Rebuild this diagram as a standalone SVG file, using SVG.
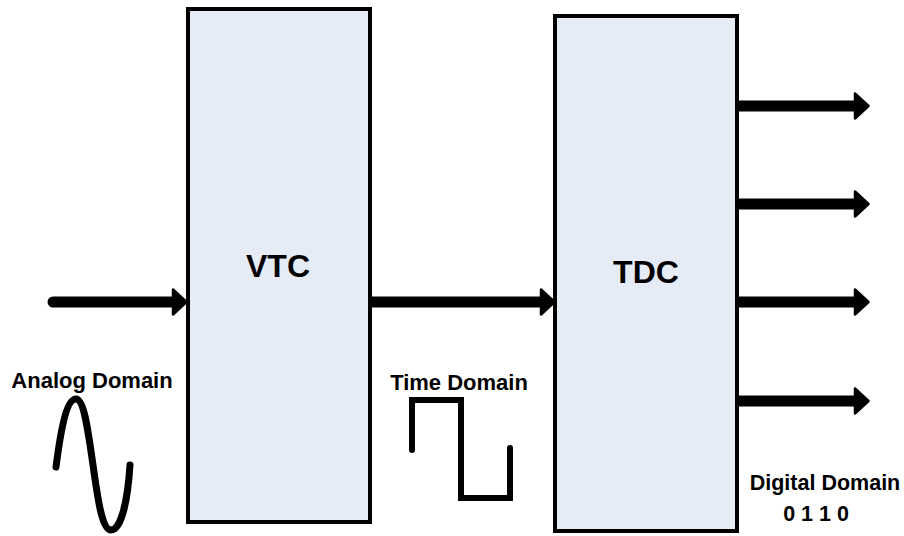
<svg xmlns="http://www.w3.org/2000/svg" width="904" height="536" viewBox="0 0 904 536">
<style>
.box{fill:#E5ECF6;stroke:#000;stroke-width:4}
.lbl{font-family:"Liberation Sans",Arial,sans-serif;font-weight:bold;fill:#000}
.big{font-size:32px}
.small{font-size:22px}
.shaft{stroke:#000;stroke-width:11;fill:none}
.wave{stroke:#000;stroke-width:7;fill:none;stroke-linecap:round}
</style>
<defs>
<marker id="ah" markerUnits="userSpaceOnUse" markerWidth="20" markerHeight="32" viewBox="-2 -2 20 32" refX="2" refY="14" orient="auto">
<path d="M1,1.5 L14.5,14 L1,26.5 Z" fill="#000" stroke="#000" stroke-width="2.5" stroke-linejoin="round"/>
</marker>
</defs>
<rect width="904" height="536" fill="#fff"/>
<g id="connectors">
<line class="shaft" x1="53" y1="302" x2="174" y2="302" stroke-linecap="round" marker-end="url(#ah)"/>
<line class="shaft" x1="370" y1="302" x2="542" y2="302" marker-end="url(#ah)"/>
<line class="shaft" x1="737" y1="106" x2="856" y2="106" marker-end="url(#ah)"/>
<line class="shaft" x1="737" y1="204" x2="856" y2="204" marker-end="url(#ah)"/>
<line class="shaft" x1="737" y1="302" x2="856" y2="302" marker-end="url(#ah)"/>
<line class="shaft" x1="737" y1="401" x2="856" y2="401" marker-end="url(#ah)"/>
</g>
<g id="vtc">
<rect class="box" x="188" y="9" width="182" height="513"/>
<text class="lbl big" x="278" y="277" text-anchor="middle">VTC</text>
</g>
<g id="tdc">
<rect class="box" x="555" y="16" width="182" height="515"/>
<text class="lbl big" x="646" y="283" text-anchor="middle">TDC</text>
</g>
<g id="analog">
<text class="lbl small" x="92" y="388" text-anchor="middle">Analog Domain</text>
<path class="wave" d="M56,467 C62,420 68,399 76,399 C84,399 88,430 93,465 C98,500 102,530 111,530 C119,530 127,510 130,465"/>
</g>
<g id="time">
<text class="lbl small" x="459" y="390" text-anchor="middle">Time Domain</text>
<path d="M412,450 L412,400 L461,400 L461,498 L510,498 L510,448" fill="none" stroke="#000" stroke-width="6" stroke-linecap="round"/>
</g>
<g id="digital">
<text class="lbl small" x="825" y="490" text-anchor="middle" style="font-size:21.5px">Digital Domain</text>
<text class="lbl small" x="816" y="521" text-anchor="middle" style="font-size:21.5px">0 1 1 0</text>
</g>
</svg>
